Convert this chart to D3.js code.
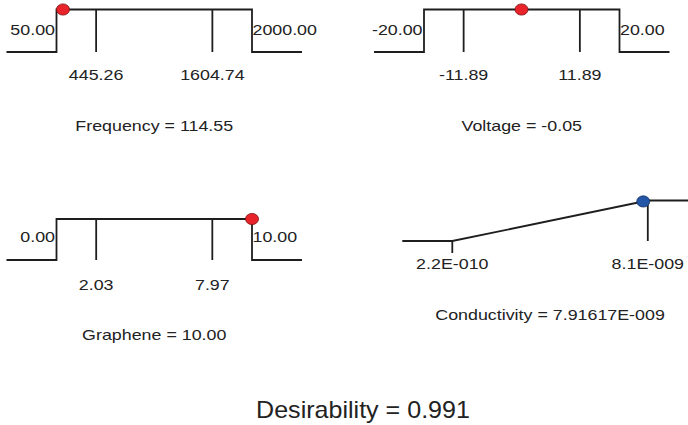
<!DOCTYPE html>
<html><head><meta charset="utf-8">
<script src="https://cdn.jsdelivr.net/npm/d3@7"></script>
<style>html,body{margin:0;padding:0;background:#fff;overflow:hidden}</style>
</head><body>
<svg id="chart" width="688" height="425"></svg>
<script>
// ---- data ----
const factorNames  = ["Frequency", "Voltage", "Graphene"];
const factorLow    = [50, -20, 0];
const factorHigh   = [2000, 20, 10];
const factorTicks  = [[445.26, 1604.74], [-11.89, 11.89], [2.03, 7.97]];
const factorValues = [114.55, -0.05, 10.00];

const responseName  = "Conductivity";
const responseLow   = 2.2e-10;
const responseHigh  = 8.1e-9;
const responseTicks = [2.2e-10, 8.1e-9];
const responseValue = 7.91617e-9;

const desirability = 0.991;

// ---- layout ----
const W = 195.5, EXT = 50;
const factorLayout = [
  {x0: 56.5, top: 9.5, base: 52,  labelBase: 34.5,  tickBase: 79.5,  titleBase: 131},
  {x0: 424,  top: 9.5, base: 52,  labelBase: 34.5,  tickBase: 79.5,  titleBase: 131},
  {x0: 56.5, top: 219, base: 260, labelBase: 242.3, tickBase: 289.5, titleBase: 339.7}
];
const respLayout = {x0: 452.3, top: 200.5, base: 241, tickBase: 269, titleBase: 319.7};

const LINE = "#1e1e1e", TEXT = "#222";
const FS = 14.5, SX = 1.23;

const svg = d3.select("#chart");

function txt(g, x, y, s, anchor, fs, sx) {
  g.append("g").attr("transform", `translate(${x},${y}) scale(${sx},1)`)
    .append("text").attr("text-anchor", anchor)
    .attr("font-family", "'Liberation Sans', Arial, sans-serif")
    .attr("font-size", fs).attr("fill", TEXT).text(s);
}
function fmtE(v, sig) {
  const [m, e] = v.toExponential(sig - 1).split("e");
  const en = parseInt(e, 10);
  return m + "E" + (en < 0 ? "-" : "+") + String(Math.abs(en)).padStart(3, "0");
}

// ---- factor panels ----
factorNames.forEach((name, i) => {
  const L = factorLayout[i];
  const x = d3.scaleLinear().domain([factorLow[i], factorHigh[i]]).range([L.x0, L.x0 + W]);
  const y = d3.scaleLinear().domain([0, 1]).range([L.base, L.top]);
  const lo = factorLow[i], hi = factorHigh[i];
  const eL = x.invert(L.x0 - EXT), eR = x.invert(L.x0 + W + EXT);
  const pts = [[eL, 0], [lo, 0], [lo, 1], [hi, 1], [hi, 0], [eR, 0]];
  const g = svg.append("g");
  g.append("path").attr("d", d3.line().x(d => x(d[0])).y(d => y(d[1]))(pts))
    .attr("fill", "none").attr("stroke", LINE).attr("stroke-width", 1.8);
  factorTicks[i].forEach(t => {
    g.append("line").attr("x1", x(t)).attr("x2", x(t)).attr("y1", y(1)).attr("y2", y(0))
      .attr("stroke", LINE).attr("stroke-width", 1.8);
    txt(g, x(t), L.tickBase, t.toFixed(2), "middle", FS, SX);
  });
  txt(g, x(lo) - 1.5, L.labelBase, lo.toFixed(2), "end", FS, SX);
  txt(g, x(hi) + 0.5, L.labelBase, hi.toFixed(2), "start", FS, SX);
  txt(g, L.x0 + W / 2, L.titleBase, `${name} = ${factorValues[i].toFixed(2)}`, "middle", FS, SX);
  g.append("ellipse").attr("cx", x(factorValues[i])).attr("cy", y(1)).attr("rx", 6.5).attr("ry", 5.6)
    .attr("fill", "#e8232a").attr("stroke", "#7a1212").attr("stroke-width", 0.8);
});

// ---- response panel ----
{
  const L = respLayout;
  const x = d3.scaleLinear().domain([responseLow, responseHigh]).range([L.x0, L.x0 + W]);
  const y = d3.scaleLinear().domain([0, 1]).range([L.base, L.top]);
  const dFn = v => Math.max(0, Math.min(1, (v - responseLow) / (responseHigh - responseLow)));
  const eL = x.invert(L.x0 - EXT), eR = x.invert(L.x0 + W + EXT);
  const pts = [[eL, 0], [responseLow, 0], [responseHigh, 1], [eR, 1]];
  const g = svg.append("g");
  g.append("path").attr("d", d3.line().x(d => x(d[0])).y(d => y(d[1]))(pts))
    .attr("fill", "none").attr("stroke", LINE).attr("stroke-width", 1.8);
  responseTicks.forEach(t => {
    const yc = y(dFn(t));
    g.append("line").attr("x1", x(t)).attr("x2", x(t)).attr("y1", yc).attr("y2", Math.max(y(0), yc + 12))
      .attr("stroke", LINE).attr("stroke-width", 1.8);
    txt(g, x(t), L.tickBase, fmtE(t, 2), "middle", FS, SX);
  });
  txt(g, L.x0 + W / 2, L.titleBase, `${responseName} = ${fmtE(responseValue, 6)}`, "middle", FS, SX);
  g.append("ellipse").attr("cx", x(responseValue)).attr("cy", y(dFn(responseValue))).attr("rx", 6.5).attr("ry", 5.6)
    .attr("fill", "#2456a8").attr("stroke", "#14305e").attr("stroke-width", 0.8);
}

// ---- overall desirability ----
txt(svg, 363, 418, `Desirability = ${desirability.toFixed(3)}`, "middle", 23, 1.09);
</script>
</body></html>
